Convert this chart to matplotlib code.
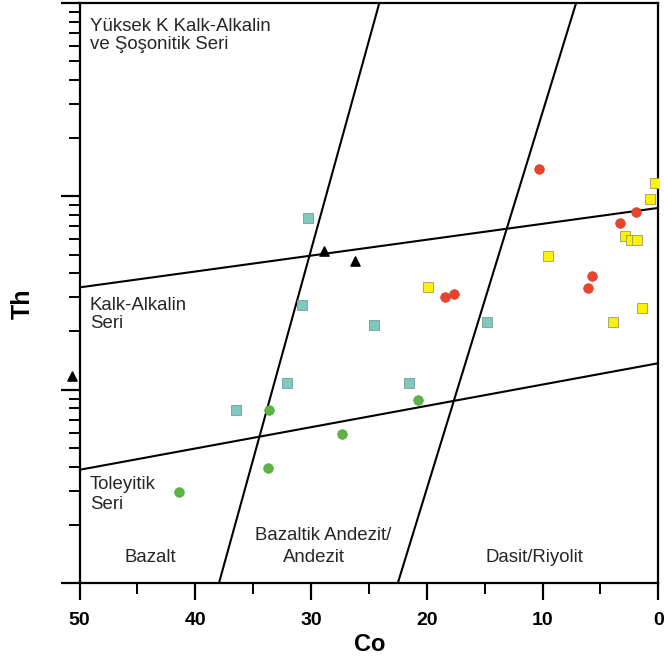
import matplotlib
matplotlib.use("Agg")
import matplotlib.pyplot as plt
from matplotlib.ticker import MultipleLocator, LogLocator, NullFormatter

plt.rcParams["font.family"] = ["Liberation Sans", "DejaVu Sans"]

# Co (ppm) and Th (ppm)
red_co = [10.31, 1.93, 3.31, 5.70, 6.05, 18.43, 17.62]
red_th = [13.89, 8.28, 7.32, 3.89, 3.34, 3.03, 3.11]

yellow_co = [0.29, 0.72, 2.88, 2.36, 1.81, 9.50, 19.92, 1.43, 3.91]
yellow_th = [11.77, 9.64, 6.23, 5.94, 5.94, 4.94, 3.41, 2.64, 2.24]

teal_co = [30.26, 30.78, 24.56, 14.80, 32.10, 36.48, 21.54]
teal_th = [7.68, 2.75, 2.15, 2.24, 1.08, 0.786, 1.08]

green_co = [33.60, 27.32, 33.69, 41.40, 20.73]
green_th = [0.783, 0.587, 0.392, 0.294, 0.882]

black_co = [50.67, 28.90, 26.20]
black_th = [1.17, 5.24, 4.63]

# field boundaries (two end points each)
boundaries = [
    ([24.1, 37.95], [100, 0.1]),   # bazalt / bazaltik andezit
    ([7.1, 22.5], [100, 0.1]),     # andezit / dasit
    ([50, 0], [3.38, 8.71]),       # kalk-alkalin / yuksek K
    ([50, 0], [0.385, 1.37]),      # toleyitik / kalk-alkalin
]

fig = plt.figure(figsize=(6.64, 6.63), dpi=100)
ax = fig.add_axes([79.5 / 664, 80 / 663, 578.8 / 664, 580 / 663])

ax.set_yscale("log")
ax.set_xlim(50, 0)
ax.set_ylim(0.1, 100)

for bx, by in boundaries:
    ax.plot(bx, by, color="black", lw=1.5)

ms = 48
ax.scatter(red_co, red_th, s=ms, marker="o", color="#e8432b", edgecolors="#d8402a", linewidths=0.5, zorder=3)
ax.scatter(yellow_co, yellow_th, s=ms, marker="s", color="#fff200", edgecolors="#9a9a6a", linewidths=0.6, zorder=3)
ax.scatter(teal_co, teal_th, s=ms, marker="s", color="#7dc9bd", edgecolors="#7a9c98", linewidths=0.6, zorder=3)
ax.scatter(green_co, green_th, s=ms, marker="o", color="#5bb443", edgecolors="#52a83c", linewidths=0.5, zorder=3)
ax.scatter(black_co, black_th, s=44, marker="^", color="black", zorder=3, clip_on=False)

# region labels
tc = "#262626"
fs = 13.4
ax.text(49.1, 71.6, "Yüksek K Kalk-Alkalin", fontsize=fs, color=tc, va="baseline")
ax.text(49.1, 57.5, "ve Şoşonitik Seri", fontsize=fs, color=tc, va="baseline")
ax.text(49.1, 2.593, "Kalk-Alkalin", fontsize=fs, color=tc, va="baseline")
ax.text(49.1, 2.085, "Seri", fontsize=fs, color=tc, va="baseline")
ax.text(49.1, 0.307, "Toleyitik", fontsize=fs, color=tc, va="baseline")
ax.text(49.1, 0.240, "Seri", fontsize=fs, color=tc, va="baseline")
ax.text(43.9, 0.1287, "Bazalt", fontsize=fs, color=tc, va="baseline", ha="center")
ax.text(28.97, 0.1665, "Bazaltik Andezit/", fontsize=fs, color=tc, va="baseline", ha="center")
ax.text(29.74, 0.1287, "Andezit", fontsize=fs, color=tc, va="baseline", ha="center")
ax.text(10.69, 0.1287, "Dasit/Riyolit", fontsize=fs, color=tc, va="baseline", ha="center")

# axes styling
for side in ["left", "right", "top", "bottom"]:
    ax.spines[side].set_linewidth(1.6)

ax.xaxis.set_major_locator(MultipleLocator(10))
ax.xaxis.set_minor_locator(MultipleLocator(5))
ax.yaxis.set_major_locator(LogLocator(base=10))
ax.yaxis.set_minor_locator(LogLocator(base=10, subs=range(2, 10)))
ax.yaxis.set_major_formatter(NullFormatter())
ax.yaxis.set_minor_formatter(NullFormatter())

ax.tick_params(axis="x", which="major", length=12, width=1.6, pad=9, labelsize=14)
ax.tick_params(axis="x", which="minor", length=8, width=1.4)
ax.tick_params(axis="y", which="major", length=14, width=1.6)
ax.tick_params(axis="y", which="minor", length=8, width=1.4)
for lbl in ax.get_xticklabels():
    lbl.set_fontweight("bold")

ax.set_xlabel("Co", fontsize=17, fontweight="bold")
ax.xaxis.set_label_coords(0.502, -0.086)
ax.set_ylabel("Th", fontsize=18, fontweight="bold")
ax.yaxis.set_label_coords(-0.077, 0.481)

fig.savefig("out.png", dpi=100)
